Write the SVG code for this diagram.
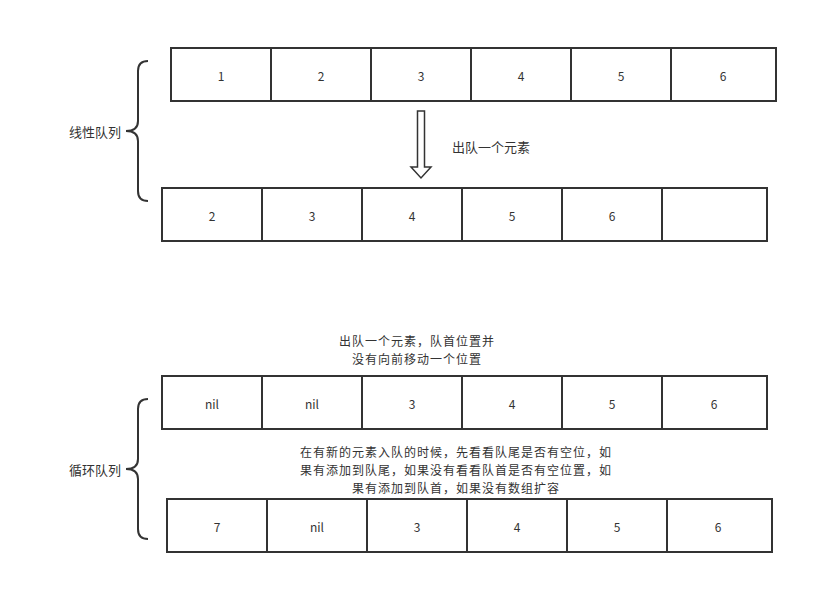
<svg xmlns="http://www.w3.org/2000/svg" width="838" height="615" viewBox="0 0 838 615">
<style>
.c{fill:#fff;stroke:#333;stroke-width:2}
.t{font-family:"Noto Sans CJK SC","Liberation Sans",sans-serif;font-size:12px;fill:#333;text-anchor:middle;dominant-baseline:central}
.z{font-size:13px}
.m{font-size:12px;letter-spacing:1px}
.b{fill:none;stroke:#333;stroke-width:2}
</style>
<rect width="838" height="615" fill="#fff"/>
<g id="row1">
<rect class="c" x="171" y="48" width="100" height="53"/><text class="t" x="221" y="75">1</text>
<rect class="c" x="271" y="48" width="100" height="53"/><text class="t" x="321" y="75">2</text>
<rect class="c" x="371" y="48" width="100" height="53"/><text class="t" x="421" y="75">3</text>
<rect class="c" x="471" y="48" width="100" height="53"/><text class="t" x="521" y="75">4</text>
<rect class="c" x="571" y="48" width="100" height="53"/><text class="t" x="621" y="75">5</text>
<rect class="c" x="671" y="48" width="105" height="53"/><text class="t" x="723" y="75">6</text>
</g>
<g id="row2">
<rect class="c" x="162" y="188" width="100" height="53"/><text class="t" x="212" y="215">2</text>
<rect class="c" x="262" y="188" width="100" height="53"/><text class="t" x="312" y="215">3</text>
<rect class="c" x="362" y="188" width="100" height="53"/><text class="t" x="412" y="215">4</text>
<rect class="c" x="462" y="188" width="100" height="53"/><text class="t" x="512" y="215">5</text>
<rect class="c" x="562" y="188" width="100" height="53"/><text class="t" x="612" y="215">6</text>
<rect class="c" x="662" y="188" width="105" height="53"/>
</g>
<g id="row3">
<rect class="c" x="162" y="376" width="100" height="53"/><text class="t" x="212" y="403">nil</text>
<rect class="c" x="262" y="376" width="100" height="53"/><text class="t" x="312" y="403">nil</text>
<rect class="c" x="362" y="376" width="100" height="53"/><text class="t" x="412" y="403">3</text>
<rect class="c" x="462" y="376" width="100" height="53"/><text class="t" x="512" y="403">4</text>
<rect class="c" x="562" y="376" width="100" height="53"/><text class="t" x="612" y="403">5</text>
<rect class="c" x="662" y="376" width="105" height="53"/><text class="t" x="714" y="403">6</text>
</g>
<g id="row4">
<rect class="c" x="167" y="499" width="100" height="53"/><text class="t" x="217" y="526">7</text>
<rect class="c" x="267" y="499" width="100" height="53"/><text class="t" x="317" y="526">nil</text>
<rect class="c" x="367" y="499" width="100" height="53"/><text class="t" x="417" y="526">3</text>
<rect class="c" x="467" y="499" width="100" height="53"/><text class="t" x="517" y="526">4</text>
<rect class="c" x="567" y="499" width="100" height="53"/><text class="t" x="617" y="526">5</text>
<rect class="c" x="667" y="499" width="105" height="53"/><text class="t" x="718" y="526">6</text>
</g>
<g id="brace1">
<path class="b" d="M148,61 Q138,61 138,71 L138,121 Q138,131 126,131 Q138,131 138,141 L138,191 Q138,201 148,201"/>
<text class="t z" x="95" y="131">线性队列</text>
</g>
<g id="brace2">
<path class="b" d="M148,399 Q138,399 138,409 L138,459 Q138,469 126,469 Q138,469 138,479 L138,529 Q138,539 148,539"/>
<text class="t z" x="95" y="469">循环队列</text>
</g>
<g id="connectors">
<path d="M417.5,111 L424.5,111 L424.5,167 L431,167 L421,178 L411,167 L417.5,167 Z" fill="#fff" stroke="#333" stroke-width="1.5" stroke-linejoin="miter"/>
</g>
<g id="labels">
<text class="t z" x="491" y="146">出队一个元素</text>
<text class="t m" x="417" y="340"><tspan x="417" y="340">出队一个元素，队首位置并</tspan><tspan x="417" y="357.8">没有向前移动一个位置</tspan></text>
<text class="t m" x="456" y="451"><tspan x="456" y="451.2">在有新的元素入队的时候，先看看队尾是否有空位，如</tspan><tspan x="456" y="469">果有添加到队尾，如果没有看看队首是否有空位置，如</tspan><tspan x="456" y="486.8">果有添加到队首，如果没有数组扩容</tspan></text>
</g>
</svg>
